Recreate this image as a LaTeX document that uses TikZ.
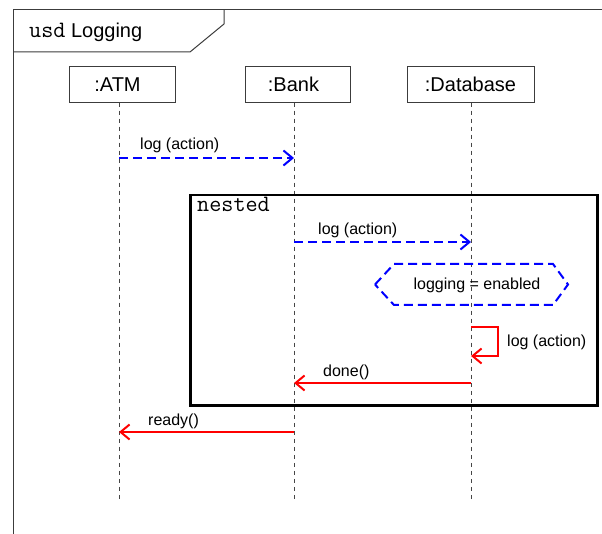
\documentclass[tikz,border=0pt]{standalone}
\usepackage{fontspec}
\setmainfont{Liberation Sans}
\usetikzlibrary{arrows.meta}
\definecolor{frameline}{RGB}{60,60,60}
\definecolor{lifegray}{RGB}{70,70,70}
\tikzset{
  headbox/.style={draw=frameline, line width=1pt, minimum height=35.5pt, inner sep=0pt,
    font=\fontsize{20}{24}\selectfont},
  lifeline/.style={draw=lifegray, line width=1pt, dash pattern=on 4pt off 4pt},
  barb/.style={-{Straight Barb[length=9pt,width=15pt]}},
  callmsg/.style={draw=blue, line width=2pt, dash pattern=on 9pt off 5pt, barb},
  replymsg/.style={draw=red, line width=2pt, barb},
  msglabel/.style={font=\fontsize{16}{19}\selectfont, inner sep=0pt, anchor=base west},
  monotitle/.style={font=\ttfamily\fontsize{23.5}{26}\selectfont, inner sep=0pt, anchor=base west},
}
\begin{document}
\begin{tikzpicture}[x=1pt,y=-1pt]
\useasboundingbox (0,0) rectangle (602,534);

% sequence diagram frame with its name tab
\draw[frameline, line width=1pt] (13,534) -- (13,10) -- (602,10);
\draw[frameline, line width=1pt] (13,52) -- (190,52) -- (224,24) -- (224,10);
\node[anchor=base west, inner sep=0pt, font=\fontsize{20}{24}\selectfont] (title) at (29,38)
  {{\ttfamily\fontsize{23.5}{26}\selectfont usd} Logging};

% lifeline heads
\node[headbox, minimum width=106pt] (atm) at (122,84.5) {\hspace*{-9pt}:ATM};
\node[headbox, minimum width=105pt] (bank) at (297.5,84.5) {\hspace*{-8pt}:Bank};
\node[headbox, minimum width=127pt] (db) at (470.5,84.5) {:Database};

% lifelines
\coordinate (atmEnd) at (119,500);
\coordinate (bankEnd) at (294,500);
\coordinate (dbEnd) at (471,500);
\draw[lifeline] (atm.south -| atmEnd) -- (atmEnd);
\draw[lifeline] (bank.south -| bankEnd) -- (bankEnd);
\draw[lifeline] (db.south -| dbEnd) -- (dbEnd);

% nested interaction fragment
\node[draw=black, line width=2.5pt, minimum width=407pt, minimum height=210pt,
  inner sep=0pt, anchor=north west] (nested) at (189,194) {};
\node[monotitle] (nestedname) at (197,212) {nested};

% message end points on the lifelines
\coordinate (m1a) at (119,158);  \coordinate (m1b) at (294,158);
\coordinate (m2a) at (294,242);  \coordinate (m2b) at (471,242);
\coordinate (s1a) at (471,327);  \coordinate (s1b) at (471,356);
\coordinate (s1r) at (498,327);
\coordinate (m3a) at (471,383);  \coordinate (m3b) at (294,383);
\coordinate (m4a) at (294,432);  \coordinate (m4b) at (119,432);

% messages
\draw[callmsg] (m1a) -- (m1b);
\node[msglabel] (l1) at (140,150) {log (action)};

\draw[callmsg] (m2a) -- (m2b);
\node[msglabel] (l2) at (318,235) {log (action)};

% state invariant
\draw[blue, line width=2pt, dash pattern=on 9pt off 5pt]
  (375,284.5) -- (394,264) -- (553,264) -- (568,284.5) -- (553,305) -- (394,305) -- cycle;
\node[font=\fontsize{16}{19}\selectfont, inner sep=0pt, anchor=base] (cond) at (477,290)
  {logging = enabled};

% self message
\draw[replymsg] (s1a) -- (s1r) |- (s1b);
\node[msglabel] (l3) at (507,347) {log (action)};

\draw[replymsg] (m3a) -- (m3b);
\node[msglabel] (l4) at (323,376) {done()};

\draw[replymsg] (m4a) -- (m4b);
\node[msglabel] (l5) at (148,425) {ready()};
\end{tikzpicture}
\end{document}
